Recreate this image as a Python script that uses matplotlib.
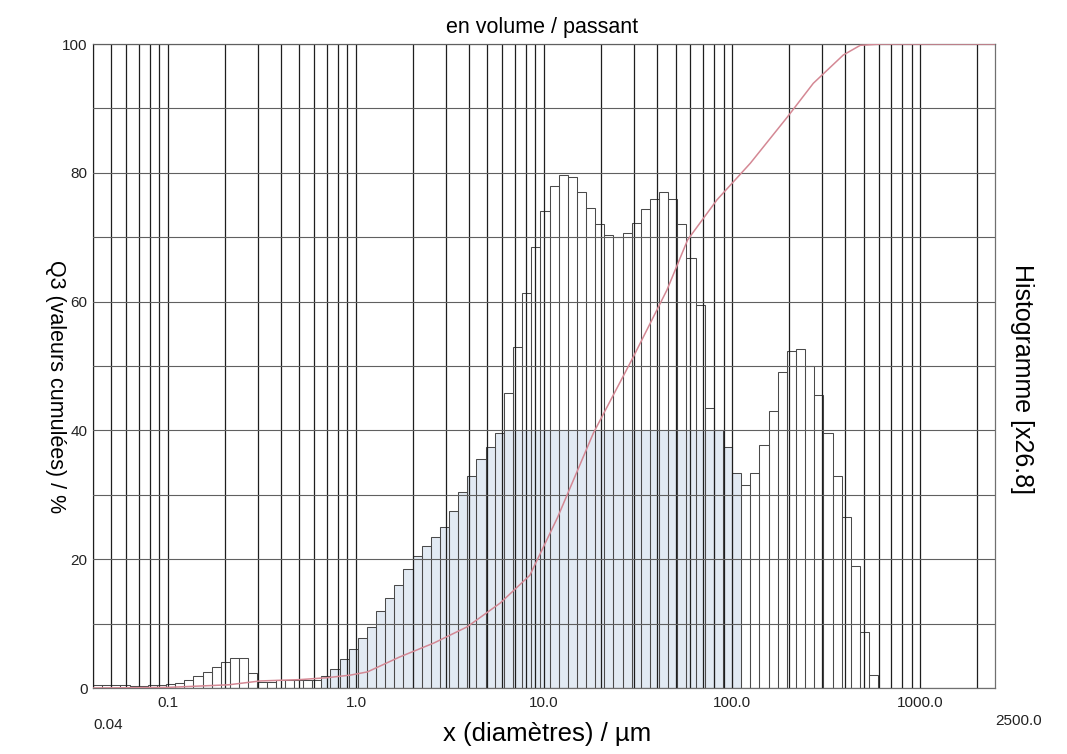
import numpy as np
import matplotlib
matplotlib.use("Agg")
import matplotlib.pyplot as plt
from matplotlib.ticker import LogLocator, NullFormatter

plt.rcParams["font.family"] = ["Liberation Sans", "DejaVu Sans"]

# histogram classes (log-spaced, from 0.04 to ~600 µm), heights on the 0-100 scale (x26.8)
x_lo, x_hi = 0.04, 597.5
hist_heights = [
    0.5, 0.5, 0.4, 0.4, 0.3, 0.3, 0.4, 0.5, 0.6, 0.8,
    1.2, 1.8, 2.5, 3.3, 4.1, 4.6, 4.6, 2.4, 1.0, 0.9,
    1.2, 1.2, 1.2, 1.2, 1.3, 1.8, 3.0, 4.5, 6.0, 7.8,
    9.5, 12.0, 14.0, 16.0, 18.5, 20.5, 22.0, 23.5, 25.0, 27.5,
    30.5, 33.0, 35.5, 37.5, 39.6, 45.8, 53.0, 61.3, 68.5, 74.0,
    78.0, 79.7, 79.3, 77.0, 74.5, 72.0, 70.3, 70.0, 70.6, 72.2,
    74.4, 76.0, 77.0, 76.0, 72.0, 66.8, 59.5, 43.5, 40.0, 37.4,
    33.4, 31.5, 33.4, 37.7, 43.0, 49.0, 52.3, 52.6, 50.0, 45.5,
    39.6, 33.0, 26.5, 19.0, 8.7, 2.0,
]

# cumulative Q3 curve (µm, %)
q3_x = [0.04, 0.1, 0.21, 0.31, 0.5, 0.7, 0.93, 1.15, 1.7, 2.6, 3.9, 5.85, 8.4,
        11.8, 18.3, 29.8, 45, 58, 83, 125, 197, 270, 390, 480, 614, 2500]
q3_y = [0, 0.1, 0.5, 1.1, 1.3, 1.6, 2.0, 2.5, 4.8, 7.0, 9.5, 13.2, 17.5,
        26.5, 39.6, 51.4, 61.8, 69.6, 75.8, 81.5, 88.7, 93.9, 98.3, 99.8, 100, 100]

xtick_vals = [0.1, 1.0, 10.0, 100.0, 1000.0]
xtick_labels = ["0.1", "1.0", "10.0", "100.0", "1000.0"]
ytick_vals = [0, 20, 40, 60, 80, 100]

edges = np.geomspace(x_lo, x_hi, len(hist_heights) + 1)
heights = np.array(hist_heights)
widths = np.diff(edges)
lefts = edges[:-1]

fig = plt.figure(figsize=(10.67, 7.54), dpi=100)
ax = fig.add_axes([0.0872, 0.0875, 0.8454, 0.8541])

# bars: white, light blue part below 40 in the central range, then outlines
ax.bar(lefts, heights, width=widths, align="edge", color="white", linewidth=0, zorder=1)
mid = (lefts >= 0.65) & (lefts < 100)
ax.bar(lefts[mid], np.minimum(heights[mid], 40), width=widths[mid], align="edge",
       color="#e2eaf3", linewidth=0, zorder=1.5)
ax.bar(lefts, heights, width=widths, align="edge", fill=False,
       edgecolor="#4a4a4a", linewidth=0.75, zorder=2)

ax.set_xscale("log")
ax.set_xlim(0.04, 2500)
ax.set_ylim(0, 100)

ax.xaxis.set_minor_locator(LogLocator(base=10, subs=np.arange(2, 10)))
ax.xaxis.set_minor_formatter(NullFormatter())
ax.set_xticks(xtick_vals)
ax.set_xticklabels(xtick_labels)
ax.set_yticks(ytick_vals)
ax.set_yticks(np.arange(10, 100, 20), minor=True)
ax.tick_params(axis="both", which="both", length=0, labelsize=11, colors="#222222")
ax.tick_params(axis="x", pad=6)
ax.tick_params(axis="y", pad=4)

ax.set_axisbelow(False)
ax.grid(True, axis="x", which="both", color="#1e1e1e", linewidth=0.9, zorder=3)
ax.grid(True, axis="y", which="both", color="#606060", linewidth=0.8, zorder=3)

for s in ax.spines.values():
    s.set_color("#707070")
    s.set_linewidth(0.9)

ax.plot(q3_x, q3_y, color="#d48894", linewidth=1.1, zorder=4)

# end labels of the x range
ax.text(0.04, -0.046, "0.04", transform=ax.get_xaxis_transform(), ha="left",
        va="top", fontsize=11, color="#222222")
ax.text(2500, -0.04, "2500.0", transform=ax.get_xaxis_transform(), ha="left",
        va="top", fontsize=11, color="#222222")

fig.text(0.508, 0.964, "en volume / passant", ha="center", va="center", fontsize=15.5)
fig.text(0.513, 0.026, "x (diamètres) / µm", ha="center", va="center", fontsize=18.5)
fig.text(0.052, 0.487, "Q3 (valeurs cumulées) / %", rotation=270, ha="center",
         va="center", fontsize=15.5)
fig.text(0.958, 0.497, "Histogramme [x26.8]", rotation=270, ha="center",
         va="center", fontsize=18)

fig.savefig("out.png", dpi=100, facecolor="white")
